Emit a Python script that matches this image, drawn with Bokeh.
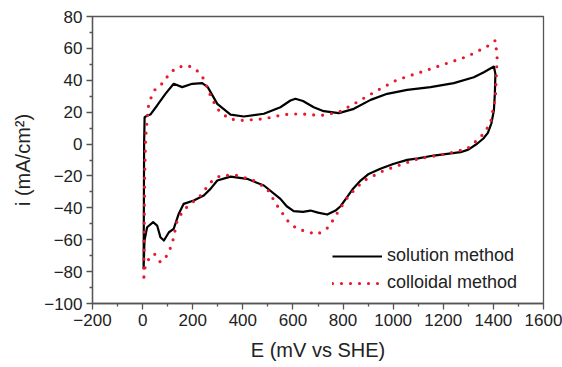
from bokeh.plotting import figure
from bokeh.models import FixedTicker, Legend, LegendItem, Range1d
from bokeh.embed import file_html
from bokeh.resources import INLINE

# ---- data ----
solution_E = [4, 5, 6, 8, 20, 31, 58, 91, 124, 158, 198, 238, 260, 298, 351, 404, 484, 550,
              590, 610, 640, 683, 723, 783, 843, 910, 976, 1056, 1149, 1242, 1322, 1362, 1402,
              1408, 1406, 1402, 1392, 1378, 1360, 1335, 1300, 1269, 1162, 1100, 1056, 1000, 949,
              900, 870, 840, 816, 790, 770, 737, 700, 670, 640, 603, 575, 550, 484, 417, 351,
              298, 271, 244, 204, 164, 144, 124, 105, 85, 71, 58, 42, 18, 7.5, 4]
solution_i = [-78, -40, 0, 16.8, 18, 18.5, 24.2, 31.5, 37.8, 35.7, 37.8, 38.2, 35.7, 25.2, 18.5,
              17.3, 19, 23.1, 27.3, 28.4, 27, 23.1, 20.6, 19.4, 22.1, 27.7, 31.5, 34, 35.7, 38.2,
              41.9, 45, 48.6,
              44, 32, 21, 13, 7, 3.5, 0.2, -3.5, -5.1, -7.2, -9, -9.9, -12.5, -15.5,
              -19, -22.9, -28, -33.3, -39, -41.7, -44.2, -43, -41.7, -42.5, -42.1, -39, -34.4,
              -26, -21.8, -20.4, -22.9, -28.1, -32.3, -35.4, -37.5, -43.8, -53.2, -55.3, -60.5,
              -58.4, -51.1, -49, -52.2, -60.5, -78.3]

colloidal_E = [5, 6, 8, 12, 21, 25, 51, 85, 105, 138, 178, 211, 244, 271, 298, 344, 391, 484,
               563, 630, 710, 783, 856, 936, 1016, 1109, 1189, 1295, 1375, 1408,
               1415, 1408, 1388, 1349, 1295, 1200, 1100, 963, 883, 823, 783, 743, 697, 617, 583,
               537, 497, 444, 377, 311, 271, 231, 164, 138, 118, 98, 71, 47, 25, 10, 5]
colloidal_i = [-83.5, -60, -20, 4.3, 20, 26.2, 34.6, 38.8, 44, 48.2, 49.3, 47.2, 40.9, 30.4,
               22.1, 15.8, 14.8, 15.8, 18.5, 19, 17.9, 20, 26.3, 33.6, 40.3, 45, 49.3, 54.9,
               61.2, 65,
               54.5, 29.4, 12.7, 4.3, -3, -6.5, -9.2, -16.6, -22.9, -32.3, -41.7, -52.1, -56.7,
               -53.2, -49, -38.6, -28.1, -22.9, -19.7, -19.7, -24, -32.3, -41.3, -48, -62.6,
               -69.9, -74.1, -68.8, -72, -77.2, -83.5]

x_ticks = [-200, 0, 200, 400, 600, 800, 1000, 1200, 1400, 1600]
x_minor = [-100, 100, 300, 500, 700, 900, 1100, 1300, 1500]
y_ticks = [-100, -80, -60, -40, -20, 0, 20, 40, 60, 80]
y_minor = [-90, -70, -50, -30, -10, 10, 30, 50, 70]

labels = ["solution method", "colloidal method"]

FONT = "Liberation Sans"
FRAME = "#555555"

p = figure(width=562, height=367, output_backend="svg", toolbar_location=None,
           x_range=Range1d(-200, 1600), y_range=Range1d(-100, 80),
           min_border_left=92, min_border_right=19, min_border_top=16, min_border_bottom=64)
p.background_fill_color = "white"
p.border_fill_color = "white"
p.outline_line_color = FRAME
p.outline_line_width = 1.3
p.grid.visible = False

for ax, tk, mn in ((p.xaxis, x_ticks, x_minor), (p.yaxis, y_ticks, y_minor)):
    ax.ticker = FixedTicker(ticks=tk, minor_ticks=mn)
    ax.axis_line_color = FRAME
    ax.axis_line_width = 1.3
    ax.major_tick_line_color = FRAME
    ax.minor_tick_line_color = FRAME
    ax.major_tick_line_width = 1.3
    ax.minor_tick_line_width = 1.3
    ax.major_tick_in = 0
    ax.major_tick_out = 6
    ax.minor_tick_in = 0
    ax.minor_tick_out = 3
    ax.major_label_text_font = FONT
    ax.major_label_text_font_size = "17px"
    ax.major_label_text_color = "#222222"
    ax.axis_label_text_font = FONT
    ax.axis_label_text_font_size = "20px"
    ax.axis_label_text_font_style = "normal"
    ax.axis_label_text_color = "#222222"

p.xaxis.axis_label = "E (mV vs SHE)"
p.yaxis.axis_label = "i (mA/cm²)"
p.xaxis.major_label_standoff = 4
p.yaxis.major_label_standoff = 4
p.xaxis.axis_label_standoff = 10
p.yaxis.axis_label_standoff = 7

r_sol = p.line(solution_E, solution_i, line_color="black", line_width=2.2, line_join="round")
r_col = p.line(colloidal_E, colloidal_i, line_color="#e8192c", line_width=3.2,
               line_dash="0 9", line_cap="round", line_join="round")

legend = Legend(items=[LegendItem(label=labels[0], renderers=[r_sol]),
                       LegendItem(label=labels[1], renderers=[r_col])],
                location=(240, 10), padding=0, margin=0, spacing=6,
                glyph_width=50, glyph_height=20, label_height=20, label_standoff=5,
                label_text_font=FONT, label_text_font_size="18px", label_text_color="#222222",
                background_fill_alpha=0, border_line_alpha=0)
p.add_layout(legend)

open("out.html", "w").write(file_html(p, INLINE))
